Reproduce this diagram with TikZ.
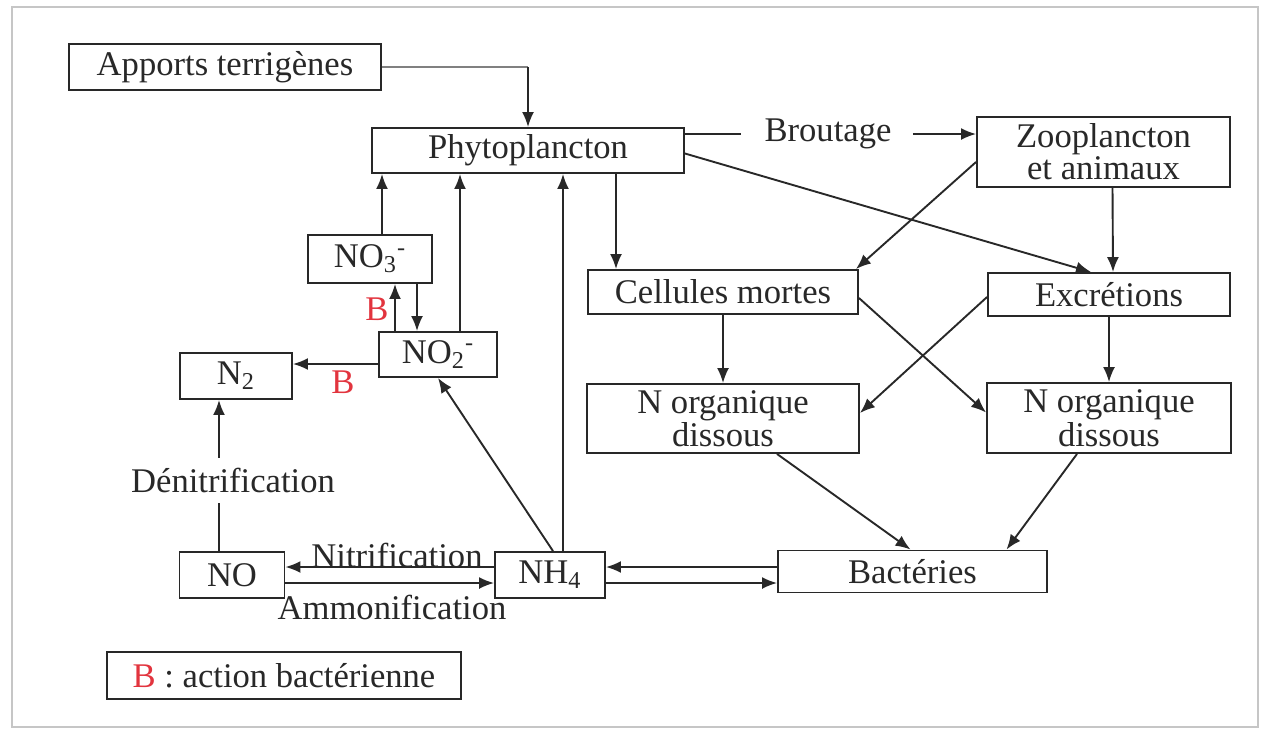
\documentclass[tikz,border=0pt]{standalone}
\usepackage{fontspec}
\setmainfont{Liberation Serif}
\usepackage{xcolor}
\usepackage{tikz}
\usetikzlibrary{arrows}
\usetikzlibrary{arrows.meta}
\definecolor{bred}{RGB}{226,52,62}
\definecolor{ink}{RGB}{40,40,40}
\tikzset{
  box/.style={draw=ink, line width=0.95pt, inner sep=0pt, align=center, text=ink},
  flow/.style={ink, line width=0.95pt, ->, >={Latex[length=7.5pt,width=6pt]}},
  lbl/.style={inner sep=0pt, text=ink},
}

\begin{document}
\begin{tikzpicture}[x=0.5pt, y=-0.5pt, font=\fontsize{17.3}{15}\selectfont]
\useasboundingbox (0,0) rectangle (1263,729);
\draw[gray!45, line width=0.8pt] (12,7) rectangle (1258,727);

\node[box, minimum width=156pt, minimum height=23pt] (apports) at (225,67) {Apports terrig\`enes};
\node[box, minimum width=156pt, minimum height=22.5pt] (phyto) at (528,150.5) {Phytoplancton};
\node[box, minimum width=126.5pt, minimum height=35pt] (zoo) at (1103.5,152) {Zooplancton\\et animaux};
\node[box, minimum width=135pt, minimum height=22pt] (cell) at (723,292) {Cellules mortes};
\node[box, minimum width=121pt, minimum height=21.5pt] (excr) at (1109,294.5) {Excr\'etions};
\node[box, minimum width=136pt, minimum height=34.5pt] (norgA) at (723,418.5) {N organique\\dissous};
\node[box, minimum width=122pt, minimum height=35pt] (norgB) at (1109,418) {N organique\\dissous};
\node[box, minimum width=134.5pt, minimum height=21pt] (bact) at (912.5,571.5) {Bact\'eries};
\node[box, minimum width=55pt, minimum height=23pt] (nh4) at (550,575) {NH\textsubscript{4}};
\node[box, minimum width=52.5pt, minimum height=23pt] (no) at (232,575) {NO};
\node[box, minimum width=56pt, minimum height=23pt] (n2) at (236,376) {N\textsubscript{2}};
\node[box, minimum width=62pt, minimum height=24pt] (no3) at (370,259) {NO\textsubscript{3}\textsuperscript{-}};
\node[box, minimum width=59pt, minimum height=22.5pt] (no2) at (438,354.5) {NO\textsubscript{2}\textsuperscript{-}};
\node[box, minimum width=177pt, minimum height=23.5pt] (legend) at (284,675.5) {\textcolor{bred}{B} : action bact\'erienne};

\node[lbl] (brout) at (828,134) {Broutage};
\node[lbl, minimum height=22.5pt] (denit) at (233,480.5) {D\'enitrification};
\node[lbl] (nitri) at (397,555) {Nitrification};
\node[lbl] (ammon) at (392,607) {Ammonification};
\node[lbl, text=bred] (bno) at (377,309) {B};
\node[lbl, text=bred] (bn2) at (343,382) {B};

\draw[gray, line width=0.6pt] (apports.east) -- (apports.east -| phyto.north);
\draw[flow] (apports.east -| phyto.north) -- (phyto.north);
\draw[ink, line width=0.95pt] (phyto.east |- brout) -- ([xshift=-11.75pt]brout.west);
\draw[flow] ([xshift=10.5pt]brout.east) -- (brout -| zoo.west);

\draw[flow] ([yshift=-5pt]zoo.west) -- ([xshift=-1.5pt]cell.north east);
\draw[flow] ([yshift=-1.5pt]phyto.east) -- ([xshift=-9pt]excr.north);
\draw[flow] ([xshift=4.5pt]zoo.south) -- ([xshift=2pt]excr.north);
\draw[flow] ([xshift=44pt]phyto.south) -- ([xshift=-53.5pt]cell.north);

\draw[flow] ([xshift=6pt]no3.north) -- ([xshift=-73pt]phyto.south);
\draw[flow] ([xshift=11pt]no2.north) -- ([xshift=-34pt]phyto.south);
\draw[flow] ([xshift=6.5pt]nh4.north) -- ([xshift=17.5pt]phyto.south);
\draw[flow] ([xshift=-21.5pt]no2.north) -- ([xshift=12.5pt]no3.south);
\draw[flow] ([xshift=23.5pt]no3.south) -- ([xshift=-10.5pt]no2.north);
\draw[flow] ([yshift=-4.75pt]no2.west) -- ([yshift=6pt]n2.east);
\draw[flow] ([xshift=1.5pt]nh4.north) -- (no2.south);

\draw[ink, line width=0.95pt] ([xshift=-6.5pt]no.north) -- ([xshift=-7pt]denit.south);
\draw[flow] ([xshift=-7pt]denit.north) -- ([xshift=-8.5pt]n2.south);
\draw[flow] ([yshift=4pt]nh4.west) -- ([yshift=4pt]no.east);
\draw[flow] ([yshift=-4pt]no.east) -- ([yshift=-4pt]nh4.west);
\draw[flow] ([yshift=2.25pt]bact.west) -- ([yshift=4pt]nh4.east);
\draw[flow] ([yshift=-4pt]nh4.east) -- ([yshift=-5.75pt]bact.west);

\draw[flow] (cell.south) -- (norgA.north);
\draw[flow] ([yshift=-3pt]cell.east) -- ([yshift=2.75pt]norgB.west);
\draw[flow] ([yshift=-1.25pt]excr.west) -- ([yshift=2.75pt]norgA.east);
\draw[flow] (excr.south) -- (norgB.north);
\draw[flow] ([xshift=27pt]norgA.south) -- ([xshift=-1pt]bact.north);
\draw[flow] ([xshift=-16pt]norgB.south) -- ([xshift=47pt]bact.north);
\end{tikzpicture}
\end{document}
